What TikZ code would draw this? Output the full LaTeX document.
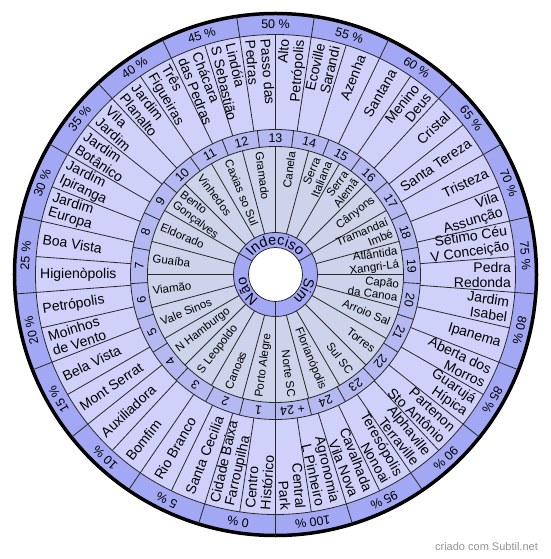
\documentclass[tikz,border=0pt]{standalone}
\usepackage{fontspec}
\setmainfont{Liberation Sans}
\usetikzlibrary{decorations.text}

\definecolor{pctring}{RGB}{163,168,245}
\definecolor{bairrofill}{RGB}{208,209,250}
\definecolor{numfill}{RGB}{180,185,242}
\definecolor{cidadefill}{RGB}{204,211,234}
\definecolor{linha}{RGB}{40,40,40}

\begin{document}
\begin{tikzpicture}[x=1pt,y=1pt,
  sep/.style={draw=linha,line width=0.8pt},
  pct/.style={font=\fontsize{12.5}{13}\selectfont,inner sep=0pt},
  num/.style={font=\fontsize{12.5}{13}\selectfont,inner sep=0pt},
  bairro/.style={font=\fontsize{14}{15}\selectfont,inner sep=0pt},
  cidade/.style={font=\fontsize{11.5}{12.5}\selectfont,inner sep=0pt},
  voto/.style={decorate,decoration={text along path,text align=center,
    text={|\fontsize{14.5}{15}\selectfont|#1}}}]
  \useasboundingbox (-275.5,-284.5) rectangle (274.5,274.5);

  % rings
  \fill[pctring] (0,0) circle[radius=261];
  \fill[bairrofill] (0,0) circle[radius=240];
  \fill[numfill] (0,0) circle[radius=145];
  \fill[cidadefill] (0,0) circle[radius=128];
  \fill[pctring] (0,0) circle[radius=42];
  \fill[white] (0,0) circle[radius=27];
  \foreach \r in {240,145,128,42,27}
    \draw[sep] (0,0) circle[radius=\r];
  \draw[line width=3.5pt] (0,0) circle[radius=261];

  % percentages
  \foreach \k in {0,...,20}
    \draw[sep] (270+\k*120/7:240) -- (270+\k*120/7:261);
  \foreach \p [count=\k from 0] in {0,5,...,100}{
    \pgfmathsetmacro\ang{270-(\k+0.5)*120/7}
    \pgfmathsetmacro\rot{\ang-90}
    \node[pct,rotate=\rot] (p\k) at (\ang:250.5) {\p{} \%};
  }

  % neighbourhoods
  \foreach \k in {0,...,41}
    \draw[sep] (90+\k*60/7:145) -- (90+\k*60/7:240);
  \foreach \nome [count=\k from 0] in {
    {Passo das\\Pedras},{Lindóia\\S Sebastião},{Chácara\\das Pedras},
    {Três\\Figueiras},{Jardim\\Planalto},{Vila\\Jardim},{Jardim\\Botânico},
    {Jardim\\Ipiranga},{Jardim\\Europa},{Boa Vista},{Higienòpolis},
    {Petrópolis},{Moinhos\\de Vento},{Bela Vista},{Mont Serrat},
    {Auxiliadora},{Bomfim},{Rio Branco},{Santa Cecilia},
    {Cidade Baixa\\Farroupilha},{Centro\\Histórico},
    {Central\\Park},{Agronomia\\L Pinheiro},{Cavalhada\\Vila Nova},
    {Teresópolis\\Nonoai},{Alphaville\\Terraville},{Partenon\\Sto Antônio},
    {Guarujá\\Hípica},{Aberta dos\\Morros},{Ipanema},{Jardim\\Isabel},
    {Pedra\\Redonda},{Sétimo Céu\\V Conceição},{Vila\\Assunção},
    {Tristeza},{Santa Tereza},{Cristal},{Menino\\Deus},{Santana},
    {Azenha},{Ecoville\\Sarandi},{Alto\\Petrópolis}}{
    \pgfmathsetmacro\ang{90+(\k+0.5)*60/7}
    \ifnum\k<21
      \pgfmathsetmacro\rot{\ang-180}
      \node[bairro,rotate=\rot,anchor=west,align=left] (b\k) at (\ang:235.5) {\nome};
    \else
      \node[bairro,rotate=\ang,anchor=east,align=right] (b\k) at (\ang:235.5) {\nome};
    \fi
  }

  % numbers
  \foreach \k in {0,...,24}{
    \draw[sep] (270+\k*14.4:128) -- (270+\k*14.4:145);
    \pgfmathsetmacro\ang{270-(\k+0.5)*14.4}
    \pgfmathsetmacro\rot{\ang-90}
    \pgfmathtruncatemacro\n{\k+1}
    \ifnum\k<24
      \node[num,rotate=\rot] (n\k) at (\ang:136.5) {\n};
    \else
      \node[num,rotate=\rot] (n\k) at (\ang:136.5) {+ 24};
    \fi
  }

  % cities
  \foreach \k in {0,...,23}
    \draw[sep] (\k*15:42) -- (\k*15:128);
  \foreach \nome [count=\k from 0] in {
    {Porto Alegre},{Canoas},{S Leopoldo},{N Hamburgo},{Vale Sinos},
    {Viamão},{Guaíba},{Eldorado},{Bento\\Gonçalves},{Vinhedos},
    {Caxias so Sul},{Gramado},{Canela},{Serra\\Italiana},{Serra\\Alemã},
    {Cânyons},{Tramandaí\\Imbé},{Atlântida\\Xangri-Lá},{Capão\\da Canoa},
    {Arroio Sal},{Torres},{Sul SC},{Florianópolis},{Norte SC}}{
    \pgfmathsetmacro\ang{262.5-15*\k}
    \ifnum\k<12
      \pgfmathsetmacro\rot{\ang-180}
      \node[cidade,rotate=\rot,anchor=west,align=left] (c\k) at (\ang:124) {\nome};
    \else
      \node[cidade,rotate=\ang,anchor=east,align=right] (c\k) at (\ang:124) {\nome};
    \fi
  }

  % inner ring
  \foreach \a in {30,150,270}
    \draw[sep] (\a:27) -- (\a:42);
  \path[voto=Indeciso] (150:29.5) arc[start angle=150,end angle=30,radius=29.5];
  \path[voto=Sim] (30:29.5) arc[start angle=30,end angle=-90,radius=29.5];
  \path[voto=Não] (270:29.5) arc[start angle=270,end angle=150,radius=29.5];

  \node[font=\fontsize{11}{12}\selectfont,text=gray!85] (marca) at (211,-272.5) {criado com Subtil.net};
\end{tikzpicture}
\end{document}
